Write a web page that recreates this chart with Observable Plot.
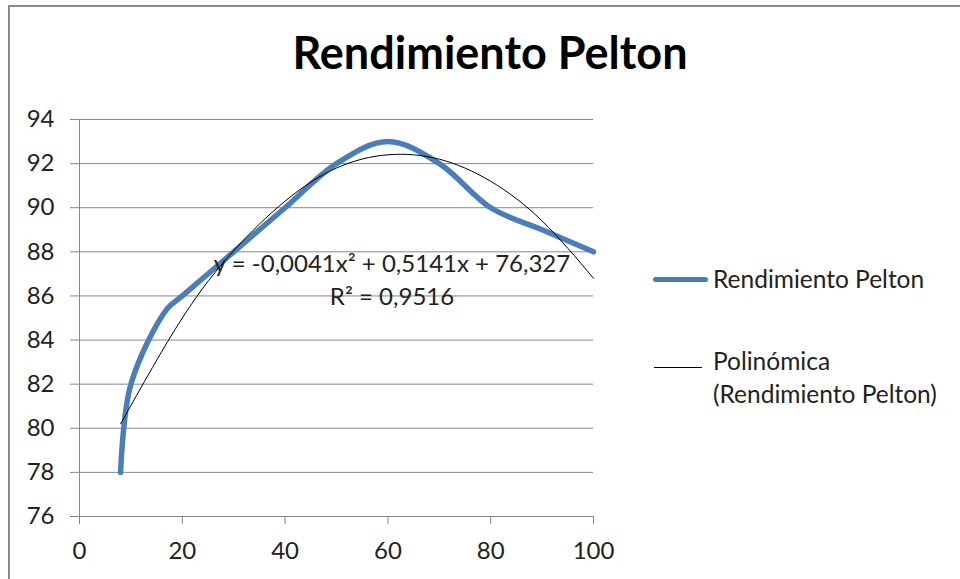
<!DOCTYPE html>
<html>
<head>
<meta charset="utf-8">
<script src="https://cdn.jsdelivr.net/npm/d3@7"></script>
<script src="https://cdn.jsdelivr.net/npm/@observablehq/plot@0.6"></script>
<style>
  html, body { margin: 0; padding: 0; background: #fff; }
  #wrap { position: relative; width: 960px; height: 579px; overflow: hidden; font-family: Lato, "Open Sans", sans-serif; color: #222; }
  #border { position: absolute; left: 8px; top: 5px; width: 1000px; height: 700px; border-left: 2px solid #8a8a8a; border-top: 2px solid #8a8a8a; }
  #chart { position: absolute; left: 0; top: 0; }
  .txt { position: absolute; white-space: nowrap; }
  #title { left: 0; width: 980px; text-align: center; top: 30px; font-size: 45px; font-weight: bold; color: #000; line-height: 1; }
  .leg { font-size: 24.5px; line-height: 1; }
  .sw { position: absolute; }
  #eq { left: 392px; top: 246px; transform: translateX(-50%); font-size: 24px; text-align: center; line-height: 33px; }
</style>
</head>
<body>
<div id="wrap">
  <div id="border"></div>
  <div id="chart"></div>
  <div id="title" class="txt">Rendimiento Pelton</div>
  <div id="eq" class="txt">y = -0,0041x² + 0,5141x + 76,327<br>R² = 0,9516</div>
  <div class="sw" style="left:653px; top:276.5px; width:55px; height:5.5px; background:#4a7ebb; border-radius:3px;"></div>
  <div class="txt leg" style="left:713px; top:267px;">Rendimiento Pelton</div>
  <div class="sw" style="left:654px; top:367px; width:48px; height:1px; background:#000;"></div>
  <div class="txt leg" style="left:713px; top:344px; line-height:33px;">Polinómica<br>(Rendimiento Pelton)</div>
</div>
<script>
// Measured series: Rendimiento Pelton
const rendX = [8, 10, 17, 20, 30, 40, 50, 60, 70, 80, 90, 100];
const rendY = [78, 82, 85.4, 86, 88, 90, 92, 93, 92, 90, 89, 88];

// Polynomial trendline
const trendX = [8, 20, 30, 40, 50, 60, 70, 80, 90, 100];
const trendY = [80.2, 85.0, 88.05, 90.3, 91.8, 92.4, 92.2, 91.2, 89.4, 86.8];

// Axis ticks
const xTicks = [0, 20, 40, 60, 80, 100];
const yTicks = [76, 78, 80, 82, 84, 86, 88, 90, 92, 94];

const rend = rendX.map((x, i) => ({x, y: rendY[i]}));
const trend = trendX.map((x, i) => ({x, y: trendY[i]}));

const gridColor = "#878787";

const chart = Plot.plot({
  width: 960,
  height: 579,
  marginLeft: 79,
  marginRight: 367,
  marginTop: 119,
  marginBottom: 63,
  x: {domain: [0, 100]},
  y: {domain: [76, 94]},
  style: {fontFamily: "Lato, 'Open Sans', sans-serif", background: "transparent", overflow: "visible", color: "#222"},
  marks: [
    Plot.ruleY(yTicks, {x1: 0, x2: 100, stroke: gridColor, strokeWidth: 1}),
    Plot.ruleX([0], {y1: 76, y2: 94, stroke: gridColor, strokeWidth: 1}),
    Plot.axisY({ticks: yTicks, tickSize: 9, tickPadding: 16, stroke: gridColor, strokeOpacity: 1, fill: "#222", fontSize: 24, label: null}),
    Plot.axisX({ticks: xTicks, tickSize: 8, tickPadding: 17, stroke: gridColor, strokeOpacity: 1, fill: "#222", fontSize: 24, label: null}),
    Plot.line(rend, {x: "x", y: "y", stroke: "#4a7ebb", strokeWidth: 5.5, curve: "catmull-rom", strokeLinecap: "round"}),
    Plot.line(trend, {x: "x", y: "y", stroke: "#000", strokeWidth: 1, curve: "natural"})
  ]
});
document.getElementById("chart").appendChild(chart);
</script>
</body>
</html>
